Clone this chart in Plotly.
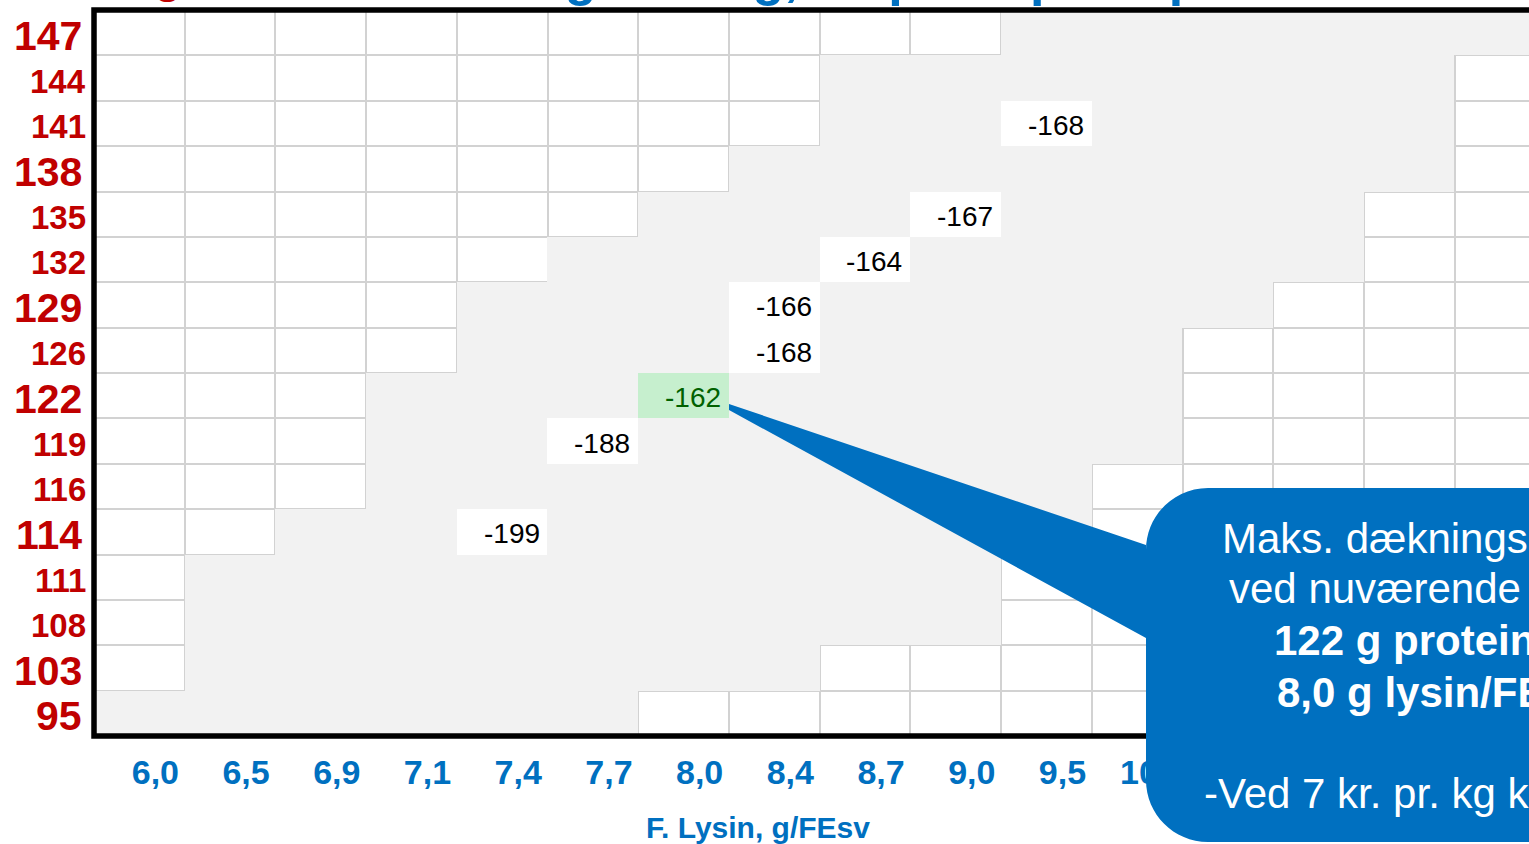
import plotly.graph_objects as go

# F. Lysin, g/FEsv (kolonner) og F. Protein, g/FEsv (rækker, top -> bund)
lysin = ["6,0", "6,5", "6,9", "7,1", "7,4", "7,7", "8,0", "8,4",
         "8,7", "9,0", "9,5", "10,0", "10,5", "11,0", "11,5", "12,0"]
protein = ["147", "144", "141", "138", "135", "132", "129", "126",
           "122", "119", "116", "114", "111", "108", "103", "95"]
protein_major = ["147", "138", "129", "122", "114", "103", "95"]

# grå zone pr. række: første og sidste (ekskl.) lysin-kolonne
gray_first = [10, 8, 8, 7, 6, 5, 4, 4, 3, 3, 3, 2, 1, 1, 1, 0]
gray_last = [16, 15, 15, 15, 14, 14, 13, 12, 12, 12, 11, 11, 10, 10, 8, 6]

# dækningsbidrag i udvalgte celler
db_protein = ["141", "135", "132", "129", "126", "122", "119", "114"]
db_lysin = ["9,5", "9,0", "8,7", "8,4", "8,4", "8,0", "7,7", "7,4"]
db_value = [-168, -167, -164, -166, -168, -162, -188, -199]
best = ("122", "8,0")

FONT = "Liberation Sans, Arial, sans-serif"
BLUE = "#0070C0"
RED = "#C00000"

W, H = 1529, 844
ML, MR, MT, MB = 94, 0, 10, 108
PW, PH = W - ML - MR, H - MT - MB
COLW = 90.71


def fx(px):
    return (px - ML) / PW


def fy(py):
    return (H - MB - py) / PH


nx, ny = len(lysin), len(protein)
z_base = [[1] * nx for _ in range(ny)]
z_fill = [[None] * nx for _ in range(ny)]
for r in range(ny):
    for c in range(gray_first[r], min(gray_last[r], nx)):
        z_fill[r][c] = 0
for p, l in zip(db_protein, db_lysin):
    z_fill[protein.index(p)][lysin.index(l)] = 2 if (p, l) == best else 1

xs = list(range(nx))
ys = list(range(ny))

fig = go.Figure()
fig.add_trace(go.Heatmap(
    x=xs, y=ys, z=z_base, xgap=2, ygap=2,
    colorscale=[[0, "#FFFFFF"], [1, "#FFFFFF"]],
    showscale=False, hoverinfo="skip"))
fig.add_trace(go.Heatmap(
    x=xs, y=ys, z=z_fill, zmin=0, zmax=2,
    colorscale=[[0, "#F2F2F2"], [0.25, "#F2F2F2"], [0.25, "#FFFFFF"],
                [0.75, "#FFFFFF"], [0.75, "#C6EFCE"], [1, "#C6EFCE"]],
    showscale=False, hoverinfo="skip"))

annotations = []
for p, l, v in zip(db_protein, db_lysin, db_value):
    annotations.append(dict(
        x=lysin.index(l) + 0.5, y=protein.index(p), xref="x", yref="y",
        text=str(v), showarrow=False, xanchor="right", yanchor="middle",
        xshift=-6, yshift=-2,
        font=dict(family=FONT, size=28,
                  color="#006100" if (p, l) == best else "#000000")))

for i, p in enumerate(protein):
    major = p in protein_major
    annotations.append(dict(
        x=0, y=i, xref="paper", yref="y", text=p, showarrow=False,
        xanchor="right", yanchor="middle", xshift=-10 if major else -6,
        yshift=-3,
        font=dict(family=FONT, size=41 if major else 33, color=RED,
                  weight="bold")))

annotations.append(dict(
    x=fx(758), y=0, xref="paper", yref="paper", text="F. Lysin, g/FEsv",
    showarrow=False, xanchor="center", yanchor="middle", yshift=-91.6,
    font=dict(family=FONT, size=30, color=BLUE, weight="bold")))

# afskåret titel og y-titel i toppen
annotations.append(dict(
    x=fx(372), y=1, xref="paper", yref="paper",
    text="Dækningsbidrag, kr. pr. år pr. stiplads", showarrow=False,
    xanchor="left", yanchor="bottom", yshift=2,
    font=dict(family=FONT, size=52, color=BLUE, weight="bold")))
annotations.append(dict(
    x=fx(-70), y=1, xref="paper", yref="paper",
    text="F. Protein, g/FEsv", showarrow=False,
    xanchor="left", yanchor="bottom", yshift=5.7,
    font=dict(family=FONT, size=44, color=RED, weight="bold")))

# tekst i taleboblen
bubble_lines = [
    ("Maks. dækningsbidrag", 1220, 553, False),
    ("ved nuværende priser:", 1227, 603, False),
    ("122 g protein/FEsv", 1272, 655, True),
    ("8,0 g lysin/FEsv", 1275, 707, True),
    ("-Ved 7 kr. pr. kg kød", 1202, 808, False),
]
for txt, px, base, bold in bubble_lines:
    annotations.append(dict(
        x=fx(px), y=fy(base - 0.3465 * 42), xref="paper", yref="paper",
        text=txt, showarrow=False, xanchor="left", yanchor="middle",
        font=dict(family=FONT, size=42, color="#FFFFFF",
                  weight="bold" if bold else "normal")))


def path(points):
    out = []
    for cmd, pts in points:
        coords = " ".join(f"{fx(a):.5f},{fy(b):.5f}" for a, b in pts)
        out.append(f"{cmd} {coords}")
    return " ".join(out)


k = 0.552 * 62
bubble = path([
    ("M", [(729, 404)]),
    ("L", [(1146, 545)]),
    ("L", [(1146, 550)]),
    ("C", [(1146, 550 - k), (1208 - k, 488), (1208, 488)]),
    ("L", [(1600, 488)]),
    ("L", [(1600, 842)]),
    ("L", [(1208, 842)]),
    ("C", [(1208 - k, 842), (1146, 780 + k), (1146, 780)]),
    ("L", [(1146, 638)]),
    ("L", [(729, 410)]),
]) + " Z"

shapes = [
    dict(type="path", xref="paper", yref="paper",
         path="M 1.2,1 L 0,1 L 0,0 L 1.2,0",
         line=dict(color="#000000", width=5.5),
         fillcolor="rgba(0,0,0,0)", layer="above"),
    dict(type="path", xref="paper", yref="paper", path=bubble,
         fillcolor=BLUE, line=dict(width=0), layer="above"),
]

fig.update_layout(
    width=W, height=H,
    margin=dict(l=ML, r=MR, t=MT, b=MB),
    paper_bgcolor="#FFFFFF", plot_bgcolor="#D2D2D2",
    showlegend=False,
    xaxis=dict(range=[-0.5, -0.5 + PW / COLW], tickvals=xs, ticktext=lysin,
               showgrid=False, zeroline=False, ticks="", showline=False,
               ticklabelstandoff=13, ticklabelshift=16,
               tickfont=dict(family=FONT, size=34, color=BLUE, weight="bold")),
    yaxis=dict(range=[ny - 0.5, -0.5], showticklabels=False, showgrid=False,
               zeroline=False, ticks="", showline=False),
    annotations=annotations,
    shapes=shapes,
)

fig.write_html("out.html", config={"displayModeBar": False},
               post_script="document.body.style.margin='0';"
                           "document.body.style.overflow='hidden';")
